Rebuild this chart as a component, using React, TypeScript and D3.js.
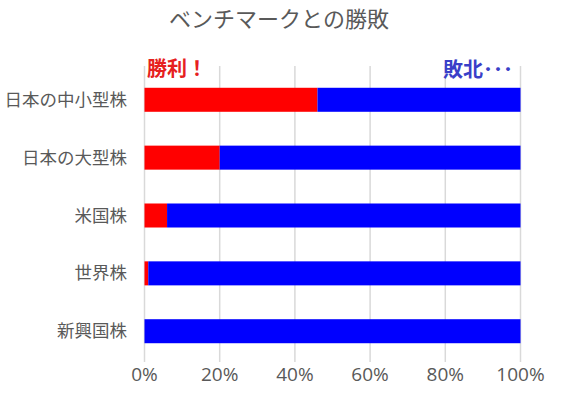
import React from "react";
import * as d3 from "d3";

const categories = ["日本の中小型株", "日本の大型株", "米国株", "世界株", "新興国株"];
const winPct = [46, 20, 6, 1, 0];
const losePct = [54, 80, 94, 99, 100];
const tickValues = [0, 20, 40, 60, 80, 100];

const W = 561, H = 396;
const FONT = "'Noto Sans CJK JP', 'Noto Sans', sans-serif";

export default function App() {
  const x = d3.scaleLinear().domain([0, 100]).range([144.5, 520.5]);
  const y = d3.scaleBand<string>().domain(categories).range([71, 360]).paddingInner(0.585).paddingOuter(0.29);
  const gray = "#595959";
  return (
    <svg width={W} height={H} style={{ position: "absolute", left: 0, top: 0, background: "#fff" }} fontFamily={FONT}>
      <text x={279} y={27} textAnchor="middle" fontSize={22} fill={gray}>ベンチマークとの勝敗</text>
      {tickValues.map((t) => (
        <line key={t} x1={x(t)} x2={x(t)} y1={66} y2={362} stroke="#d9d9d9" strokeWidth={1.5} />
      ))}
      {categories.map((c, i) => {
        const y0 = y(c)!;
        const bh = y.bandwidth();
        return (
          <g key={c}>
            <rect x={x(0)} y={y0} width={x(winPct[i]) - x(0)} height={bh} fill="#ff0000" />
            <rect x={x(winPct[i])} y={y0} width={x(winPct[i] + losePct[i]) - x(winPct[i])} height={bh} fill="#0000ff" />
            <text x={127} y={y0 + bh / 2} dy="0.35em" textAnchor="end" fontSize={17.5} fill={gray}>{c}</text>
          </g>
        );
      })}
      {tickValues.map((t) => (
        <text key={t} x={x(t)} y={381} textAnchor="middle" fontSize={19} fontFamily="'Open Sans', sans-serif" fill={gray}>{t}%</text>
      ))}
      <rect x={146} y={55} width={62} height={24} fill="#fff" />
      <text x={147} y={76} fontSize={20} fontWeight="bold" fill="#e62020">勝利！</text>
      <text x={513} y={77} textAnchor="end" fontSize={20} fontWeight="bold" fill="#3a3fc8">敗北<tspan>･･･</tspan></text>
    </svg>
  );
}
